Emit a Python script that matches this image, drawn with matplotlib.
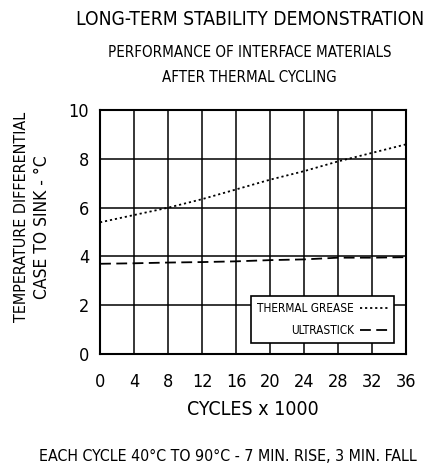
import matplotlib.pyplot as plt

# 데이터
cycles = [0, 4, 8, 12, 16, 20, 24, 28, 32, 36]
thermal_grease = [5.4, 5.7, 6.0, 6.35, 6.75, 7.15, 7.5, 7.9, 8.25, 8.6]
ultrastick = [3.7, 3.72, 3.75, 3.77, 3.8, 3.85, 3.88, 3.95, 3.95, 3.97]
x_ticks = [0, 4, 8, 12, 16, 20, 24, 28, 32, 36]
y_ticks = [0, 2, 4, 6, 8, 10]

plt.rcParams['font.family'] = ['DejaVu Sans']
plt.rcParams['font.stretch'] = 'condensed'

fig = plt.figure(figsize=(4.24, 4.68), dpi=100)
ax = fig.add_axes([0.236, 0.2436, 0.722, 0.521])

ax.plot(cycles, thermal_grease, color='black', lw=1.3, ls=(0, (1.2, 1.6)), label='THERMAL GREASE')
ax.plot(cycles, ultrastick, color='black', lw=1.3, ls=(0, (6, 3)), label='ULTRASTICK')

ax.set_xlim(0, 36)
ax.set_ylim(0, 10)
ax.set_xticks(x_ticks)
ax.set_yticks(y_ticks)
ax.tick_params(length=0, labelsize=13)
ax.tick_params(axis='x', pad=14)
ax.tick_params(axis='y', pad=8)
ax.grid(True, color='black', lw=1.1)
ax.set_axisbelow(True)
for s in ax.spines.values():
    s.set_linewidth(1.5)

ax.set_xlabel('CYCLES x 1000', fontsize=14, labelpad=6)

# y축 라벨 두 줄
fig.text(22 / 424, 0.536, 'TEMPERATURE DIFFERENTIAL', rotation=90, ha='center', va='center', fontsize=11.5)
fig.text(42 / 424, 0.515, 'CASE TO SINK - °C', rotation=90, ha='center', va='center', fontsize=12.5)

# 범례: 텍스트가 선 왼쪽에 온다
leg = ax.legend(loc='lower right', fontsize=8.5, markerfirst=False, handlelength=2.4,
                frameon=True, fancybox=False, edgecolor='black', framealpha=1,
                borderpad=0.5, labelspacing=0.75, handletextpad=0.5, borderaxespad=0,
                bbox_to_anchor=(0.96, 0.045))
leg.get_frame().set_linewidth(1.2)
for t in leg.get_texts():
    t.set_ha('right')

fig.text(0.59, 0.947, 'LONG-TERM STABILITY DEMONSTRATION', ha='center', fontsize=13.8)
fig.text(0.588, 0.878, 'PERFORMANCE OF INTERFACE MATERIALS', ha='center', fontsize=10.8)
fig.text(0.588, 0.825, 'AFTER THERMAL CYCLING', ha='center', fontsize=10.8)
fig.text(0.538, 0.016, 'EACH CYCLE 40°C TO 90°C - 7 MIN. RISE, 3 MIN. FALL', ha='center', fontsize=11.4)

fig.savefig('out.png', dpi=100)
